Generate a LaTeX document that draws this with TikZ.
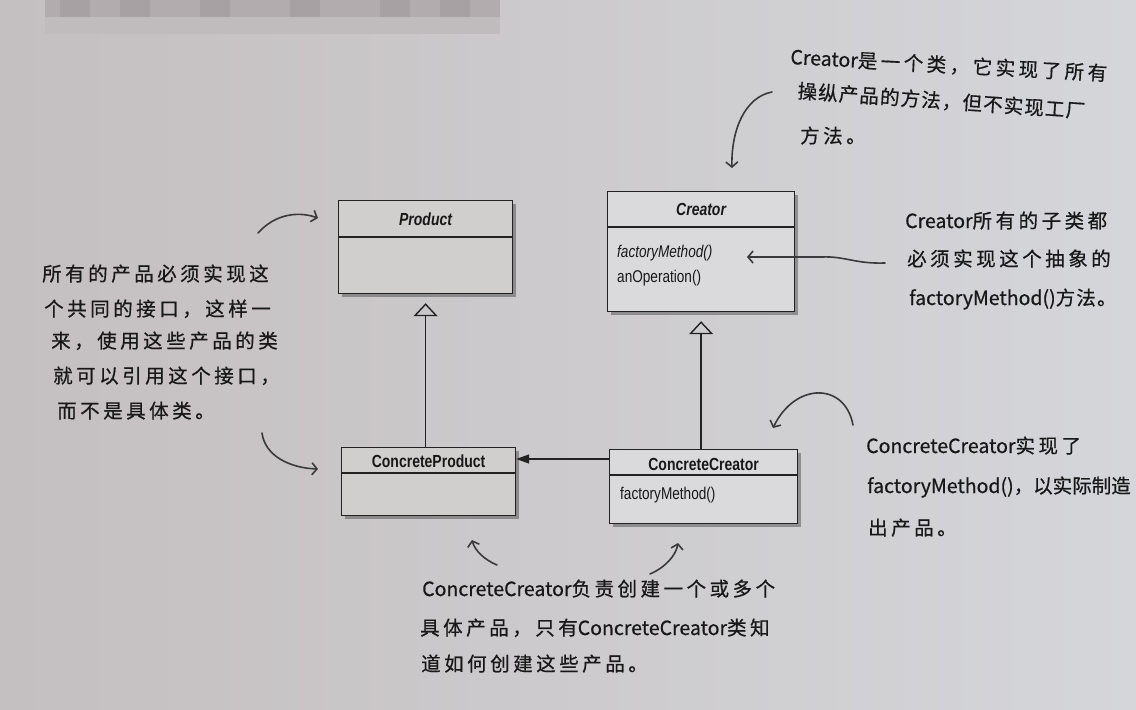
\documentclass[tikz,border=0pt]{standalone}
\usepackage{fontspec}
\setmainfont{Liberation Sans}
\newfontfamily\umlf[FakeStretch=0.8]{Liberation Sans}
\newfontfamily\hand[LetterSpace=18,FakeBold=0.6]{Noto Sans CJK SC}
\newfontfamily\handn[LetterSpace=6,FakeBold=0.6]{Noto Sans CJK SC}
\newfontfamily\handz[FakeBold=0.6]{Noto Sans CJK SC}
\newfontfamily\handl[FakeBold=0.6]{Noto Sans CJK SC}
\newcommand\lat[1]{{\handl #1}}
\usetikzlibrary{arrows.meta,shadows,calc}
\definecolor{bgL}{RGB}{196,191,192}
\definecolor{bgR}{RGB}{213,214,218}
\definecolor{boxL}{RGB}{209,206,206}
\definecolor{boxR}{RGB}{218,218,220}
\definecolor{linec}{RGB}{34,34,34}
\definecolor{handc}{RGB}{58,58,58}
\definecolor{txtc}{RGB}{24,24,24}
\definecolor{blurA}{RGB}{178,172,174}
\definecolor{blurB}{RGB}{192,187,189}
\tikzset{
  umlbox/.style={draw=linec, line width=1.2pt, inner sep=0pt, anchor=north west,
    drop shadow={shadow xshift=3pt, shadow yshift=-3pt, opacity=0.45, fill=black!75}},
  umltitle/.style={font=\umlf\fontsize{17.5}{20}\selectfont\bfseries, text=txtc, inner sep=0pt},
  umlop/.style={font=\umlf\fontsize{17}{20}\selectfont, text=txtc, inner sep=0pt, anchor=west},
  divline/.style={draw=linec, line width=1.2pt},
  inherit/.style={draw=linec, line width=1.4pt, shorten >=9pt, -{Triangle[open,length=13pt,width=24pt]}},
  assoc/.style={draw=linec, line width=1.4pt, -{Triangle[length=13pt,width=9pt]}},
  note/.style={font=\hand\fontsize{19.5}{35}\selectfont, text=txtc, inner sep=0pt, anchor=base west},
  handarrow/.style={draw=handc, line width=1.6pt, line cap=round, line join=round,
    -{Straight Barb[length=5pt,width=12pt]}}
}
\begin{document}
\begin{tikzpicture}[x=1pt,y=-1pt]
\useasboundingbox (0,0) rectangle (1136,710);
\shade[left color=bgL, right color=bgR] (0,0) rectangle (1136,710);
% blurred band at top left
\fill[blurB] (45,0) rectangle (500,34);
\fill[blurA] (45,0) rectangle (500,17);
\foreach \x in {60,120,200,290,380,440} {\fill[black,opacity=0.06] (\x,0) rectangle ++(30,17);}

% UML classes
\node[umlbox, fill=boxL, minimum width=174pt, minimum height=93pt] (product) at (338,200) {};
\node[umltitle] (productT) at ($(product.north)+(0,19)$) {\itshape Product};
\draw[divline] ($(product.north west)+(0,37)$) -- ($(product.north east)+(0,37)$);

\node[umlbox, fill=boxR, minimum width=187pt, minimum height=120pt] (creator) at (607,191) {};
\node[umltitle] (creatorT) at ($(creator.north)+(0,18)$) {\itshape Creator};
\draw[divline] ($(creator.north west)+(0,36)$) -- ($(creator.north east)+(0,36)$);
\node[umlop] (creatorM1) at (617,253) {\itshape factoryMethod()};
\node[umlop] (creatorM2) at (617,278) {anOperation()};

\node[umlbox, fill=boxL, minimum width=174pt, minimum height=68pt] (cprod) at (341,447) {};
\node[umltitle] (cprodT) at ($(cprod.north)+(0,14)$) {ConcreteProduct};
\draw[divline] ($(cprod.north west)+(0,26)$) -- ($(cprod.north east)+(0,26)$);

\node[umlbox, fill=boxR, minimum width=188pt, minimum height=74pt] (ccre) at (609,449) {};
\node[umltitle] (ccreT) at ($(ccre.north)+(0,15)$) {ConcreteCreator};
\draw[divline] ($(ccre.north west)+(0,26)$) -- ($(ccre.north east)+(0,26)$);
\node[umlop] (ccreM1) at (620,495) {factoryMethod()};

% UML connectors
\draw[inherit] (product.south |- cprod.north) -- (product.south);
\draw[inherit] (creator.south |- ccre.north) -- (creator.south);
\coordinate (asc) at ($(ccre.north west)+(0,10)$);
\draw[assoc] (asc) -- (asc -| cprod.east);

% handwritten notes
\node[note, rotate=-3] (t1) at (790,64) {\lat{Creator}是一个类，它实现了所有};
\node[note, rotate=-4, font=\handn\fontsize{19.5}{35}\selectfont] (t2) at (797,98) {操纵产品的方法，但不实现工厂};
\node[note] (t3) at (800,143) {方法。};

\node[note] (l1) at (42,281) {所有的产品必须实现这};
\node[note] (l2) at (44,316) {个共同的接口，这样一};
\node[note] (l3) at (51,348) {来，使用这些产品的类};
\node[note] (l4) at (53,383) {就可以引用这个接口，};
\node[note] (l5) at (57,418) {而不是具体类。};

\node[note] (r1) at (905,228) {\lat{Creator}所有的子类都};
\node[note] (r2) at (907,266) {必须实现这个抽象的};
\node[note, font=\handn\fontsize{19.5}{35}\selectfont] (r3) at (909,305) {\lat{factoryMethod()}方法。};

\node[note] (c1) at (866,453) {\lat{ConcreteCreator}实现了};
\node[note, font=\handz\fontsize{19.5}{35}\selectfont] (c2) at (867,493) {factoryMethod()，以实际制造};
\node[note] (c3) at (868,535) {出产品。};

\node[note] (b1) at (422,596) {\lat{ConcreteCreator}负责创建一个或多个};
\node[note] (b2) at (420,635) {具体产品，只有\lat{ConcreteCreator}类知};
\node[note] (b3) at (421,671) {道如何创建这些产品。};

% hand-drawn pointer arrows
\coordinate (a1s) at (258,233); \coordinate (a1e) at (318,218);
\draw[handarrow] (a1s) .. controls (275,214) and (298,211) .. (a1e);
\coordinate (a2s) at (262,433); \coordinate (a2e) at (318,469);
\draw[handarrow] (a2s) .. controls (265,456) and (290,468) .. (a2e);
\coordinate (a3s) at (772,92); \coordinate (a3e) at (732,168);
\draw[handarrow] (a3s) .. controls (745,97) and (731,130) .. (a3e);
\coordinate (a4s) at (885,263); \coordinate (a4m) at (822,257); \coordinate (a4e) at (747,257);
\draw[handarrow] (a4s) .. controls (855,264) and (845,256) .. (a4m) -- (a4e);
\coordinate (a5s) at (853,425); \coordinate (a5e) at (773,428);
\draw[handarrow] (a5s) .. controls (845,382) and (795,382) .. (a5e);
\coordinate (a6s) at (497,565); \coordinate (a6e) at (472,540);
\draw[handarrow] (a6s) .. controls (485,560) and (475,551) .. (a6e);
\coordinate (a7s) at (650,574); \coordinate (a7e) at (678,543);
\draw[handarrow] (a7s) .. controls (666,567) and (676,555) .. (a7e);
\end{tikzpicture}
\end{document}
